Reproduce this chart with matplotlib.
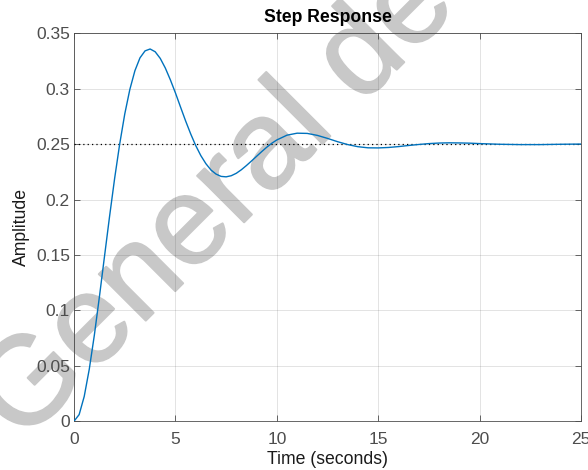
import matplotlib.pyplot as plt
import matplotlib.patheffects as pe

# step response
time_s = [0, 0.25, 0.5, 0.75, 1.0, 1.25, 1.5, 1.75, 2.0, 2.25, 2.5, 2.75, 3.0, 3.25,
          3.5, 3.75, 4.0, 4.25, 4.5, 4.75, 5.0, 5.25, 5.5, 5.75, 6.0, 6.25, 6.5,
          6.75, 7.0, 7.25, 7.5, 7.75, 8.0, 8.25, 8.5, 8.75, 9.0, 9.25, 9.5, 9.75,
          10.0, 10.5, 11.0, 11.5, 12.0, 12.5, 13.0, 13.5, 14.0, 14.5, 15.0, 15.5,
          16.0, 16.5, 17.0, 17.5, 18.0, 18.5, 19.0, 19.5, 20.0, 21.0, 22.0, 23.0,
          24.0, 25.0]
amplitude = [0, 0.0059, 0.0223, 0.0470, 0.0777, 0.1124, 0.1487, 0.1848, 0.2191,
             0.2502, 0.2773, 0.2994, 0.3163, 0.3279, 0.3342, 0.3359, 0.3334, 0.3274,
             0.3187, 0.3080, 0.2962, 0.2835, 0.2710, 0.2593, 0.2487, 0.2397, 0.2324,
             0.2267, 0.2230, 0.2209, 0.2205, 0.2215, 0.2237, 0.2269, 0.2307, 0.2348,
             0.2390, 0.2432, 0.2472, 0.2508, 0.2538, 0.2581, 0.2599, 0.2597, 0.2579,
             0.2552, 0.2522, 0.2496, 0.2477, 0.2467, 0.2466, 0.2470, 0.2478, 0.2488,
             0.2497, 0.2505, 0.2510, 0.2512, 0.2511, 0.2509, 0.2505, 0.2499, 0.2496,
             0.2496, 0.2499, 0.2501]
final_value = 0.25
x_ticks = [0, 5, 10, 15, 20, 25]
y_ticks = [0, 0.05, 0.1, 0.15, 0.2, 0.25, 0.3, 0.35]
y_tick_labels = ['0', '0.05', '0.1', '0.15', '0.2', '0.25', '0.3', '0.35']

plt.rcParams['font.family'] = ['Liberation Sans', 'DejaVu Sans']

fig = plt.figure(figsize=(5.88, 4.70), dpi=100)
ax = fig.add_axes([0.126, 0.104, 0.862, 0.825])

ax.plot(time_s, amplitude, color='#0072BD', linewidth=1.0, zorder=3)
ax.plot([0, 25], [final_value, final_value], color='black', linestyle=(0, (1, 2.5)),
        linewidth=0.9, zorder=2.6)

ax.set_xlim(0, 25)
ax.set_ylim(0, 0.35)
ax.set_xticks(x_ticks)
ax.set_yticks(y_ticks)
ax.set_yticklabels(y_tick_labels)
ax.tick_params(direction='in', top=True, right=True, length=4, width=0.6,
               colors='#4d4d4d', labelsize=12.5, labelcolor='#4d4d4d')
ax.tick_params(axis='x', pad=8)
ax.tick_params(axis='y', pad=3)
for s in ax.spines.values():
    s.set_color('#4d4d4d')
    s.set_linewidth(0.6)
# grid drawn above the watermark, like MATLAB's translucent grid
ax.grid(True, color='#262626', alpha=0.13, linewidth=0.7)
ax.set_axisbelow(False)

ax.set_xlabel('Time (seconds)', fontsize=12.7, color='#1a1a1a', labelpad=3)
ax.set_ylabel('Amplitude', fontsize=12.7, color='#1a1a1a', labelpad=4)
ax.set_title('Step Response', fontsize=12.7, fontweight='bold', pad=8)

# watermark: light grey, under the grid and the curve
wm_color = '#c8c8c8'
ax.text(0.037, 0.054, 'General de', transform=fig.transFigure, fontsize=90,
        color=wm_color, rotation=45, rotation_mode='anchor', ha='left',
        va='baseline', zorder=1, clip_on=False,
        path_effects=[pe.withStroke(linewidth=1.5, foreground=wm_color)])

fig.savefig('out.png', dpi=100)
